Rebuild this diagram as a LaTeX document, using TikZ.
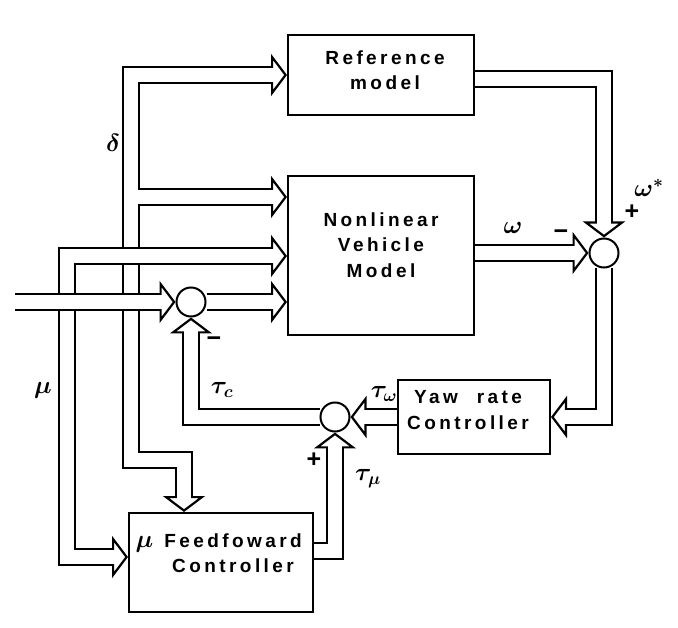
\documentclass[tikz,border=0pt]{standalone}
\usepackage{fontspec}
\setmainfont{Liberation Sans}
\newfontfamily\blockfont{Liberation Sans}[LetterSpace=18]
\usetikzlibrary{arrows.meta}

\pgfdeclarelayer{pipes}
\pgfsetlayers{pipes,main}

% hohle Pfeilspitze fuer die Doppellinien
\tikzset{
    hollow/.tip={Triangle[open, length=16pt 0 0, width=42pt 0 0, line width=2.2pt 0 0]},
    band/.style={line width=18.5pt, line join=miter, black,
        tipR/.style={-hollow}, tipLR/.style={hollow-hollow}},
    bore/.style={line width=14pt, white,
        tipR/.style={shorten >=11pt}, tipLR/.style={shorten <=11pt, shorten >=11pt}}
}
% Doppellinie: erst schwarz, dann weiss
\newcommand\duct[2][]{\draw[band,#1] #2; \draw[bore,#1] #2;}

\begin{document}
\begin{tikzpicture}[x=1pt, y=-1pt,
    block/.style={draw, line width=2pt, fill=white, inner sep=0pt},
    sumpt/.style={circle, draw, line width=2pt, fill=white, minimum size=29pt, inner sep=0pt},
    txt/.style={font=\blockfont\bfseries\fontsize{19}{25.5}\selectfont, align=center},
    sig/.style={font=\fontsize{25}{28}\selectfont\boldmath},
    sgn/.style={font=\bfseries\fontsize{25}{28}\selectfont}]
    \useasboundingbox (0,0) rectangle (678,628);

    % Bloecke
    \node[block, minimum width=186pt, minimum height=80pt] (refm) at (381,75) {};
    \node[block, minimum width=186pt, minimum height=159pt] (nvm) at (381,255.5) {};
    \node[block, minimum width=152pt, minimum height=74pt] (yaw) at (474,417) {};
    \node[block, minimum width=184pt, minimum height=99pt] (ffc) at (221,562.5) {};

    \node[txt] (refmtxt) at (385,70) {Reference\\model};
    \node[txt] (nvmtxt) at (381,245) {Nonlinear\\Vehicle\\Model};
    \node[txt] (yawtxt) at (468,410) {Yaw\hspace{19pt}rate\\Controller};
    \node[txt] (ffctxt) at (233,553) {\llap{\fontsize{24}{24}\selectfont\boldmath$\mu$ }Feedfoward\\Controller};

    % Summierstellen
    \node[sumpt] (j1) at (191,302) {};
    \node[sumpt] (j2) at (604,253) {};
    \node[sumpt] (j3) at (335,417) {};

    % Eck- und Startpunkte
    \coordinate (in) at (15,302);
    \coordinate (dtop) at (131,75);
    \coordinate (dnvm) at (131,197);
    \coordinate (dlow) at (184,460);
    \coordinate (mtop) at (67,256);
    \coordinate (mlow) at (67,557);
    \coordinate (rc) at (604,79);
    \coordinate (fc) at (335,551);

    % Signalpfeile
    \begin{pgfonlayer}{pipes}
        \duct[tipLR]{(refm.west) -- (dtop) -- (dtop |- dlow) -- (dlow) -- (dlow |- ffc.north)}
        \duct[tipR]{([xshift=7pt]dnvm) -- (dnvm -| nvm.west)}
        \duct[tipLR]{(mtop -| nvm.west) -- (mtop) -- (mlow) -- (mlow -| ffc.west)}
        \duct[tipR]{(in) -- (j1.west)}
        \duct[tipR]{(j1) -- (j1 -| nvm.west)}
        \duct[tipR]{(j2 -| nvm.east) -- (j2.west)}
        \duct[tipR]{(rc -| refm.east) -- (rc) -- (j2.north)}
        \duct[tipR]{(j2) -- (j2 |- yaw.east) -- (yaw.east)}
        \duct[tipR]{(yaw.west) -- (j3.east)}
        \duct[tipR]{(j3) -- (j3 -| j1) -- (j1.south)}
        \duct[tipR]{(fc -| ffc.east) -- (fc) -- (j3.south)}
    \end{pgfonlayer}

    % Signalnamen und Vorzeichen
    \node[sig] (ldelta) at (113,143) {$\delta$};
    \node[sig] (lmu) at (43,390) {$\mu$};
    \node[sig] (lomega) at (513,228) {$\omega$};
    \node[sgn] (lminus1) at (561,235) {−};
    \node[sgn] (lplus1) at (632,212) {+};
    \node[sig] (lomstar) at (649,188) {$\omega^{*}$};
    \node[sig] (ltauc) at (222,390) {$\tau_c$};
    \node[sgn] (lminus2) at (214,342) {−};
    \node[sig] (ltauw) at (384,394) {$\tau_\omega$};
    \node[sgn] (lplus2) at (314,460) {+};
    \node[sig] (ltaum) at (368,479) {$\tau_\mu$};
\end{tikzpicture}
\end{document}
